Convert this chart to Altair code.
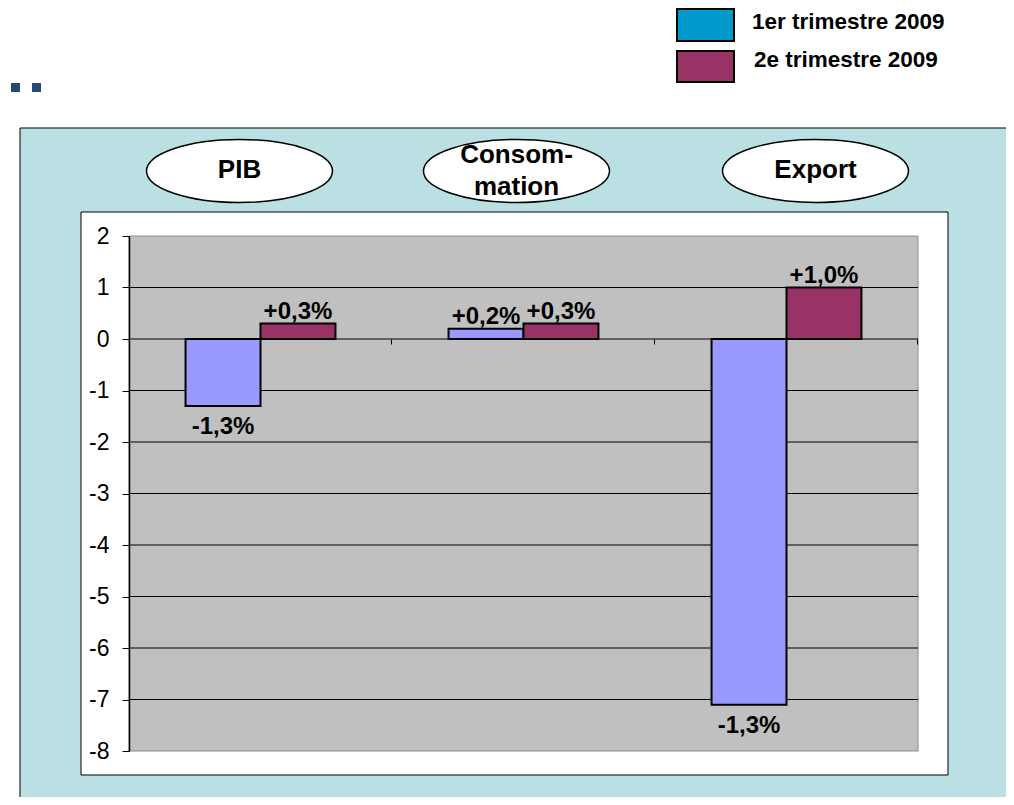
import altair as alt
import pandas as pd

# ---- data ----
categories = ["PIB", "Consommation", "Export"]
series = ["1er trimestre 2009", "2e trimestre 2009"]
q1_values = [-1.3, 0.2, -7.1]
q2_values = [0.3, 0.3, 1.0]
q1_labels = ["-1,3%", "+0,2%", "-1,3%"]
q2_labels = ["+0,3%", "+0,3%", "+1,0%"]
y_ticks = list(range(-8, 3))
grid_ticks = list(range(-7, 2))

rows = []
for i, c in enumerate(categories):
    rows.append({"cat": c, "serie": series[0], "value": q1_values[i], "label": q1_labels[i]})
    rows.append({"cat": c, "serie": series[1], "value": q2_values[i], "label": q2_labels[i]})
df = pd.DataFrame(rows)
grid_df = pd.DataFrame({"tick": grid_ticks})
one = pd.DataFrame({"k": [0]})

W, H = 789, 515
FONT = "Liberation Sans"

y_scale = alt.Scale(domain=[-8, 2], nice=False, zero=False)
y_axis = alt.Axis(values=y_ticks, grid=False, title=None, domainColor="black",
                  tickColor="black", tickSize=7, labelFontSize=23, labelColor="black",
                  labelFont=FONT, labelPadding=13, zindex=1, domainWidth=1.5,
                  labelExpr="'' + datum.value")
x_scale = alt.Scale(domain=categories, paddingInner=0.43, paddingOuter=0.215)
x_axis = alt.Axis(title=None, labels=False, domain=False, ticks=True, tickSize=5,
                  tickColor="black", bandPosition=206.5 / 150, grid=False,
                  offset=-412, zindex=1)
off_scale = alt.Scale(domain=series, paddingInner=0, paddingOuter=0)
color_scale = alt.Scale(domain=series, range=["#9999FF", "#993366"])


def box(x, x2, y, y2, fill, stroke=None, sw=1):
    kw = dict(fill=fill)
    if stroke:
        kw.update(stroke=stroke, strokeWidth=sw)
    return alt.Chart(one).mark_rect(**kw).encode(
        x=alt.value(x), x2=alt.value(x2), y=alt.value(y), y2=alt.value(y2))


layers = []
# outer light-blue frame, white chart area, grey plot area
layers.append(box(-109, 900, -108, 600, "#BAE0E3", "black", 1))
layers.append(box(-48, 819, -24, 539, "white", "black", 1))
layers.append(box(0, W, 0, H, "#C0C0C0", "#8C8C8C", 1))
# two small squares at top-left
layers.append(box(-118, -109, -153, -144, "#234A7A"))
layers.append(box(-97, -88, -153, -144, "#234A7A"))
# legend
legend_colors = ["#0099CC", "#993366"]
legend_y = [(-227, -195), (-185, -154)]
legend_text_pos = [(623, -214), (625, -176)]
for i, s in enumerate(series):
    layers.append(box(548, 605, legend_y[i][0], legend_y[i][1], legend_colors[i], "black", 2))
    layers.append(alt.Chart(one).mark_text(
        text=s, align="left", baseline="middle", font=FONT, fontSize=22.5,
        fontWeight="bold", color="black").encode(
        x=alt.value(legend_text_pos[i][0]), y=alt.value(legend_text_pos[i][1])))

# ellipses with category titles
ell_path = "M-1,0A1,0.339,0,1,0,1,0A1,0.339,0,1,0,-1,0Z"
ell_x = [110.5, 387.5, 686.5]
ell_text = ["PIB", ["Consom-", "mation"], "Export"]
ell_text_y = [-66, -81, -66]
for i in range(3):
    layers.append(alt.Chart(one).mark_point(
        shape=ell_path, size=186 * 186, filled=True, fill="white", stroke="black",
        strokeWidth=1.5, opacity=1).encode(x=alt.value(ell_x[i]), y=alt.value(-65)))
    layers.append(alt.Chart(one).mark_text(
        text=ell_text[i], align="center", baseline="middle", font=FONT, fontSize=26,
        fontWeight="bold", color="black", lineHeight=32).encode(
        x=alt.value(ell_x[i]), y=alt.value(ell_text_y[i])))

# gridlines
layers.append(alt.Chart(grid_df).mark_rule(color="black", strokeWidth=1).encode(
    y=alt.Y("tick:Q", scale=y_scale, axis=y_axis)))

# bars
bars = alt.Chart(df).mark_bar(stroke="black", strokeWidth=2).encode(
    x=alt.X("cat:N", scale=x_scale, axis=x_axis, sort=categories),
    xOffset=alt.XOffset("serie:N", scale=off_scale, sort=series),
    y=alt.Y("value:Q", scale=y_scale, axis=y_axis),
    y2=alt.datum(0),
    color=alt.Color("serie:N", scale=color_scale, legend=None),
)
layers.append(bars)

lab_common = dict(font=FONT, fontSize=24, fontWeight="bold", color="black", align="center")
pos_labels = alt.Chart(df).transform_filter("datum.value >= 0").mark_text(
    baseline="alphabetic", dy=-5, **lab_common).encode(
    x=alt.X("cat:N", scale=x_scale, axis=x_axis, sort=categories),
    xOffset=alt.XOffset("serie:N", scale=off_scale, sort=series),
    y=alt.Y("value:Q", scale=y_scale, axis=y_axis),
    text="label:N")
neg_labels = alt.Chart(df).transform_filter("datum.value < 0").mark_text(
    baseline="alphabetic", dy=28, **lab_common).encode(
    x=alt.X("cat:N", scale=x_scale, axis=x_axis, sort=categories),
    xOffset=alt.XOffset("serie:N", scale=off_scale, sort=series),
    y=alt.Y("value:Q", scale=y_scale, axis=y_axis),
    text="label:N")
layers += [pos_labels, neg_labels]

chart = alt.layer(*layers).properties(
    width=W, height=H,
    autosize=alt.AutoSizeParams(type="none"),
    padding={"left": 121, "top": 228, "right": 88, "bottom": 46},
    background="white",
).configure_view(stroke=None)

chart.save("out.html", embed_options={"renderer": "svg", "actions": False})
